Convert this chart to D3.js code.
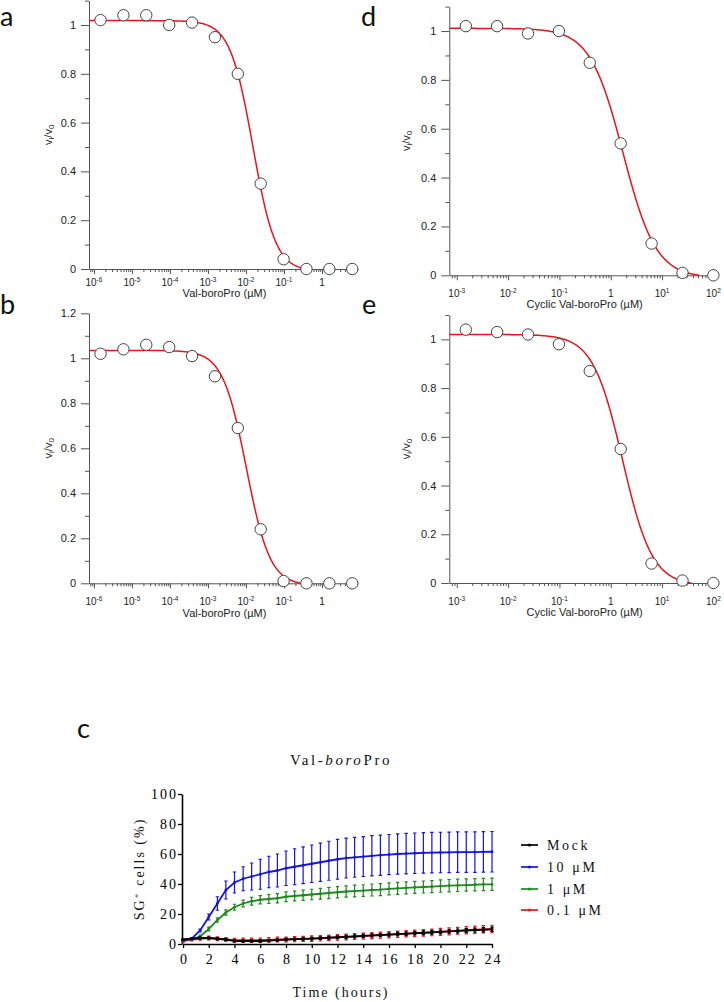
<!DOCTYPE html>
<html><head><meta charset="utf-8">
<script src="https://cdn.jsdelivr.net/npm/d3@7"></script>
<style>body{margin:0;background:#fff}svg{display:block}</style>
</head><body>
<svg id="chart" width="724" height="1002"></svg>
<script>
// ---------------- DATA ----------------
// Panels a, b : Val-boroPro (µM), 4-fold dilutions
const concAB = [1.49e-6, 5.96e-6, 2.38e-5, 9.54e-5, 3.815e-4, 1.526e-3, 6.1e-3, 0.0244, 0.0977, 0.39, 1.5625, 6.25];
const valuesA = [1.02, 1.04, 1.04, 1.00, 1.01, 0.95, 0.80, 0.35, 0.04, 0.00, 0.00, 0.00];
const valuesB = [1.02, 1.04, 1.06, 1.05, 1.01, 0.92, 0.69, 0.24, 0.01, 0.00, 0.00, 0.00];
// Panels d, e : Cyclic Val-boroPro (µM)
const concDE = [0.0015, 0.0061, 0.0244, 0.0977, 0.39, 1.5625, 6.25, 25, 100];
const valuesD = [1.02, 1.02, 0.99, 1.00, 0.87, 0.54, 0.13, 0.01, 0.00];
const valuesE = [1.04, 1.03, 1.02, 0.98, 0.87, 0.55, 0.08, 0.01, 0.00];
// fitted 4-parameter curves: [top, bottom, logIC50, hill]
const fitA = [1.018, -0.01, -1.82, 1.45];
const fitB = [1.035, -0.01, -1.99, 1.40];
const fitD = [1.011, -0.01, 0.24, 1.35];
const fitE = [1.020, -0.01, 0.23, 1.50];
// tick labels
const decadesAB = [1e-6, 1e-5, 1e-4, 1e-3, 1e-2, 1e-1, 1];
const decadesDE = [1e-3, 1e-2, 1e-1, 1, 10, 100];
const yTicks11 = [0, 0.2, 0.4, 0.6, 0.8, 1];
const yTicks12 = [0, 0.2, 0.4, 0.6, 0.8, 1, 1.2];
const yMinor11 = [0.1, 0.3, 0.5, 0.7, 0.9, 1.1];
const yMinor12 = [0.1, 0.3, 0.5, 0.7, 0.9, 1.1];

// Panel c : SG+ cells (%) over time
const hours = [0,0.67,1.33,2,2.67,3.33,4,4.67,5.33,6,6.67,7.33,8,8.67,9.33,10,10.67,11.33,12,12.67,13.33,14,14.67,15.33,16,16.67,17.33,18,18.67,19.33,20,20.67,21.33,22,22.67,23.33,24];
const mockMean = [3,3.5,4,4,3.5,3,2,2,2,2,2.3,2.6,3,3.2,3.4,3.6,3.9,4.2,4.5,4.8,5.1,5.4,5.7,6,6.3,6.6,6.9,7.2,7.5,7.8,8.1,8.4,8.7,9,9.3,9.5,9.8];
const mockErr  = [0.5,0.5,0.6,0.6,0.6,0.6,0.6,0.6,0.6,0.7,0.7,0.7,0.8,0.8,0.8,0.8,0.9,0.9,0.9,1,1,1,1,1,1,1.1,1.1,1.1,1.2,1.2,1.2,1.2,1.3,1.3,1.3,1.4,1.4];
const hiMean = [2.5,3.5,9,18,27,36,41,43.5,45,46.5,48,49,50.5,51.5,52.5,53.5,54.5,55.5,56.5,57.3,57.8,58.3,58.8,59.2,59.6,60,60.2,60.5,60.7,60.9,61,61.1,61.2,61.3,61.3,61.4,61.5];
const hiErr  = [0.5,0.8,1,2,4.5,6,7,8,9,10,10.5,11,11.5,12,12.3,12.5,12.8,13,13.2,13.3,13.3,13.3,13.4,13.4,13.4,13.4,13.5,13.5,13.5,13.5,13.5,13.5,13.5,13.5,13.5,13.5,13.5];
const midMean = [2.5,3.5,5,10,16,21,24.5,27,28.5,29.5,30,30.5,31.5,32,32.5,33,33.5,34,34.5,35,35.3,35.6,36,36.3,36.8,37.1,37.4,37.7,38,38.3,38.6,38.9,39.1,39.3,39.5,39.7,39.8];
const midErr  = [0.5,0.7,1,1.2,1.5,1.8,2,2.3,2.6,2.8,3,3.1,3.2,3.3,3.4,3.5,3.6,3.7,3.8,3.8,3.9,3.9,4,4,4,4,4,4,4,4,4.1,4.1,4.1,4.1,4.1,4.1,4.1];
const loMean = [2,3,3.5,4,3.5,3,2.5,2.5,2.5,2.5,2.7,3,3,3.2,3.4,3.6,3.8,4.1,4.4,4.7,5,5.3,5.6,5.9,6.2,6.5,6.8,7.1,7.4,7.7,8.1,8.4,8.8,9.2,9.5,9.8,10];
const loErr  = [0.8,1,1,1.2,1.2,1.3,1.3,1.4,1.4,1.5,1.5,1.6,1.6,1.7,1.7,1.8,1.8,1.8,1.9,1.9,2,2,2,2,2.1,2.1,2.1,2.2,2.2,2.2,2.3,2.3,2.3,2.4,2.4,2.4,2.5];
const seriesNames = ["Mock", "10 μM", "1 μM", "0.1 μM"];
const timeTicks = [0,2,4,6,8,10,12,14,16,18,20,22,24];
const pctTicks = [0,20,40,60,80,100];

// ---------------- DRAW ----------------
const svg = d3.select("#chart");
const SANS = "'Liberation Sans', Arial, sans-serif";
const SERIF = "'Liberation Serif', 'Times New Roman', serif";
const LET = "Lato, 'Open Sans', sans-serif";
const AX = "#555";
const RED = "#e8141c";

function logistic(p, c) { return p[1] + (p[0] - p[1]) / (1 + Math.pow(c / Math.pow(10, p[2]), p[3])); }

function dosePanel(o) {
  const x = d3.scaleLog().domain(o.xDom).range(o.xRange);
  const y = d3.scaleLinear().domain(o.yDom).range(o.yRange);
  const g = svg.append("g");
  // y axis
  const ya = g.append("g").attr("transform", `translate(${o.xRange[0]},0)`).style("color", AX)
    .call(d3.axisLeft(y).tickValues(o.yTicks).tickSize(8).tickSizeOuter(0).tickFormat(d => String(d)));
  ya.selectAll("text").attr("fill", "#222").style("font-family", SANS).style("font-size", "11px").attr("x", -13);
  g.append("g").attr("transform", `translate(${o.xRange[0]},0)`).style("color", AX)
    .call(d3.axisLeft(y).tickValues(o.yMinor).tickSize(4).tickSizeOuter(0).tickFormat(""))
    .select(".domain").remove();
  // x axis
  g.append("g").attr("transform", `translate(0,${o.yRange[0]})`).style("color", AX)
    .call(d3.axisBottom(x).tickValues(o.decades).tickSize(5).tickSizeOuter(0).tickFormat(""));
  const minor = x.ticks().filter(v => !o.decades.some(d => Math.abs(v - d) / d < 1e-6));
  g.append("g").attr("transform", `translate(0,${o.yRange[0]})`).style("color", AX)
    .call(d3.axisBottom(x).tickValues(minor).tickSize(3).tickSizeOuter(0).tickFormat(""))
    .select(".domain").remove();
  // x tick labels with superscripts
  o.decades.forEach(d => {
    const k = Math.round(Math.log10(d));
    const t = g.append("text").attr("x", x(d)).attr("y", o.yRange[0] + o.labDy)
      .attr("text-anchor", "middle").attr("fill", "#222")
      .style("font-family", SANS).style("font-size", "10px");
    if (k === 0) t.text("1");
    else {
      t.append("tspan").text("10");
      t.append("tspan").attr("dy", -4).style("font-size", "6.5px").text(String(k));
    }
  });
  // x title
  g.append("text").attr("x", (o.xRange[0] + o.xRange[1]) / 2 + 1).attr("y", o.yRange[0] + o.titleDy)
    .attr("text-anchor", "middle").attr("fill", "#222")
    .style("font-family", SANS).style("font-size", "11px").text(o.xTitle);
  // y title v_i/v_0
  const yt = g.append("text").attr("transform", `translate(${o.ylabX},${(o.yRange[0] + o.yRange[1]) / 2}) rotate(-90)`)
    .attr("text-anchor", "middle").attr("fill", "#222").style("font-family", SANS).style("font-size", "11px");
  yt.append("tspan").text("v");
  yt.append("tspan").attr("dy", 2).style("font-size", "8px").text("i");
  yt.append("tspan").attr("dy", -2).text("/v");
  yt.append("tspan").attr("dy", 2).style("font-size", "8px").text("0");
  // fitted curve
  const [l0, l1] = o.xDom.map(Math.log10);
  const pts = d3.range(0, 401).map(i => Math.pow(10, l0 + (l1 - l0) * i / 400))
    .map(c => [c, logistic(o.fit, c)]).filter(p => p[1] >= 0);
  g.append("path").datum(pts).attr("fill", "none").attr("stroke", RED).attr("stroke-width", 1.5)
    .attr("d", d3.line().x(p => x(p[0])).y(p => y(p[1])));
  // points
  g.selectAll("circle.pt").data(o.conc.map((c, i) => [c, o.vals[i]])).join("circle")
    .attr("cx", p => x(p[0])).attr("cy", p => y(p[1])).attr("r", 5.7)
    .attr("fill", "#fff").attr("stroke", "#444").attr("stroke-width", 1);
  // panel letter
  svg.append("text").attr("x", o.letterXY[0]).attr("y", o.letterXY[1])
    .style("font-family", LET).style("font-size", "27px").attr("fill", "#111").text(o.letter);
}

dosePanel({ xDom: [Math.pow(10, -6.13), Math.pow(10, 0.947)], xRange: [89, 358], yDom: [0, 1.1], yRange: [269, 0.6],
  yTicks: yTicks11, yMinor: yMinor11, decades: decadesAB, conc: concAB, vals: valuesA, fit: fitA,
  xTitle: "Val-boroPro (µM)", labDy: 17, titleDy: 28, ylabX: 52, letter: "a", letterXY: [0, 26] });
dosePanel({ xDom: [Math.pow(10, -6.13), Math.pow(10, 0.947)], xRange: [89, 358], yDom: [0, 1.2], yRange: [583.3, 313.3],
  yTicks: yTicks12, yMinor: yMinor12, decades: decadesAB, conc: concAB, vals: valuesB, fit: fitB,
  xTitle: "Val-boroPro (µM)", labDy: 22, titleDy: 34, ylabX: 52, letter: "b", letterXY: [0, 314] });
dosePanel({ xDom: [Math.pow(10, -3.146), Math.pow(10, 2.09)], xRange: [449.3, 718], yDom: [0, 1.1], yRange: [275.3, 6.6],
  yTicks: yTicks11, yMinor: yMinor11, decades: decadesDE, conc: concDE, vals: valuesD, fit: fitD,
  xTitle: "Cyclic Val-boroPro (µM)", labDy: 22, titleDy: 33, ylabX: 410, letter: "d", letterXY: [361, 26] });
dosePanel({ xDom: [Math.pow(10, -3.146), Math.pow(10, 2.09)], xRange: [449.3, 718], yDom: [0, 1.1], yRange: [583, 315],
  yTicks: yTicks11, yMinor: yMinor11, decades: decadesDE, conc: concDE, vals: valuesE, fit: fitE,
  xTitle: "Cyclic Val-boroPro (µM)", labDy: 22, titleDy: 33, ylabX: 410, letter: "e", letterXY: [362, 314] });

// ---------------- Panel c ----------------
(function () {
  const x = d3.scaleLinear().domain([0, 24]).range([183, 492]);
  const y = d3.scaleLinear().domain([0, 100]).range([944, 794]);
  const g = svg.append("g");
  const ls = "2px";
  // title
  const tt = g.append("text").attr("x", 341).attr("y", 765).attr("text-anchor", "middle")
    .style("font-family", SERIF).style("font-size", "15px").style("letter-spacing", "2.6px").attr("fill", "#111");
  tt.append("tspan").text("Val-");
  tt.append("tspan").style("font-style", "italic").text("boro");
  tt.append("tspan").text("Pro");
  // axes
  const ya = g.append("g").attr("transform", `translate(${x(0) - 1},0)`).style("color", "#000")
    .call(d3.axisLeft(y).tickValues(pctTicks).tickSize(4).tickSizeOuter(0));
  ya.select(".domain").attr("stroke-width", 1.6);
  ya.selectAll(".tick line").attr("stroke-width", 1.3);
  ya.selectAll("text").style("font-family", SERIF).style("font-size", "14px").style("letter-spacing", ls).attr("x", -4);
  const xa = g.append("g").attr("transform", `translate(0,${y(0)})`).style("color", "#000")
    .call(d3.axisBottom(x).tickValues(timeTicks).tickSize(4).tickSizeOuter(0));
  xa.select(".domain").attr("stroke-width", 1.6);
  xa.selectAll(".tick line").attr("stroke-width", 1.3);
  xa.selectAll("text").style("font-family", SERIF).style("font-size", "14px").style("letter-spacing", ls).attr("y", 10).attr("dx", "1px");
  g.append("text").attr("x", 341).attr("y", 997).attr("text-anchor", "middle")
    .style("font-family", SERIF).style("font-size", "14px").style("letter-spacing", ls).attr("fill", "#111").text("Time (hours)");
  const yl = g.append("text").attr("transform", `translate(144,${(y(0) + y(100)) / 2}) rotate(-90)`).attr("text-anchor", "middle")
    .style("font-family", SERIF).style("font-size", "14px").style("letter-spacing", ls).attr("fill", "#111");
  yl.append("tspan").text("SG");
  yl.append("tspan").attr("dy", -5).style("font-size", "9px").text("+");
  yl.append("tspan").attr("dy", 5).text(" cells (%)");

  const series = [
    { name: seriesNames[3], mean: loMean, err: loErr, color: "#e8141c" },
    { name: seriesNames[2], mean: midMean, err: midErr, color: "#1e8a1e" },
    { name: seriesNames[1], mean: hiMean, err: hiErr, color: "#1414e0" },
    { name: seriesNames[0], mean: mockMean, err: mockErr, color: "#000000" }
  ];
  series.forEach(s => {
    const sg = g.append("g");
    const d = hours.map((h, i) => ({ h, m: s.mean[i], e: s.err[i] }));
    sg.selectAll("path.eb").data(d).join("path").attr("fill", "none").attr("stroke", s.color).attr("stroke-width", 1.2)
      .attr("d", p => `M${x(p.h)},${y(p.m + p.e)}V${y(Math.max(0, p.m - p.e))}M${x(p.h) - 1.7},${y(p.m + p.e)}h3.4M${x(p.h) - 1.7},${y(Math.max(0, p.m - p.e))}h3.4`);
    sg.append("path").datum(d).attr("fill", "none").attr("stroke", s.color).attr("stroke-width", 1.8)
      .attr("d", d3.line().x(p => x(p.h)).y(p => y(p.m)));
    sg.selectAll("circle").data(d).join("circle").attr("cx", p => x(p.h)).attr("cy", p => y(p.m)).attr("r", 1.4).attr("fill", s.color);
  });
  // legend
  const legColors = ["#000000", "#1414e0", "#1e8a1e", "#e8141c"];
  const legY = [845, 867, 889, 910];
  seriesNames.forEach((n, i) => {
    g.append("line").attr("x1", 521).attr("x2", 538).attr("y1", legY[i]).attr("y2", legY[i]).attr("stroke", legColors[i]).attr("stroke-width", 1.7);
    g.append("circle").attr("cx", 529.5).attr("cy", legY[i]).attr("r", 1.6).attr("fill", legColors[i]);
    g.append("text").attr("x", 547).attr("y", legY[i] + 5).style("font-family", SERIF).style("font-size", "14px")
      .style("letter-spacing", "2.6px").attr("fill", "#111").text(n);
  });
  svg.append("text").attr("x", 77).attr("y", 738).style("font-family", LET).style("font-size", "27px").attr("fill", "#111").text("c");
})();
</script>
</body></html>
